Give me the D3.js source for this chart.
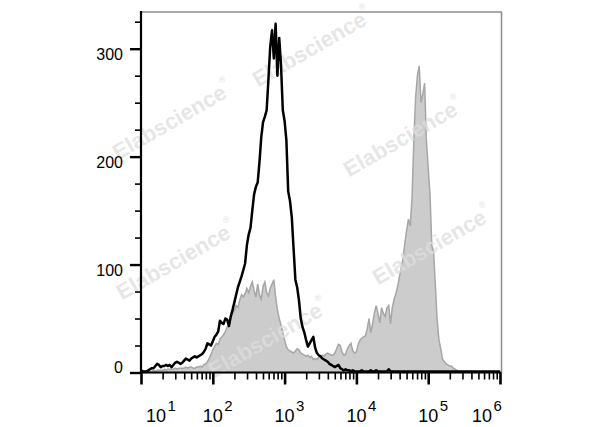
<!DOCTYPE html>
<html><head><meta charset="utf-8">
<script src="https://cdn.jsdelivr.net/npm/d3@7"></script>
<style>body{margin:0;background:#fff} svg{display:block}</style>
</head><body><svg id="c" width="600" height="427"></svg>
<script>
// bins: log10 value = binStart + i*binStep
const binStart = 1, binStep = 0.025;
const blackCounts = [
 2,1,1,1,2,3,4,4,6,8,7,5,6,6,7,6,7,5,7,9,
 10,9,8,9,11,13,12,11,13,14,15,14,15,16,17,19,22,27,26,25,
 29,33,35,38,48,46,45,50,49,43,52,58,65,72,79,84,89,95,101,118,
 128,134,150,165,172,176,195,218,232,237,243,272,302,317,291,323,275,310,285,243,
 233,215,168,159,144,115,86,79,67,50,42,37,30,24,27,30,33,23,18,16,
 15,13,12,11,10,8,7,6,5,6,7,4,3,2,3,2,2,1,2,1,
 1,1,1,2,1,1,1,1,2,1,1,2,1,1,1,1,1,1,3,1,
 1,1,1,1,1,1,1,1,1,1,1,1,1,1,1,1,1,1,1,1,
 1,1,1,1,1,1,1,1,1,1,1,1,1,1,1,1,1,1,1,1,
 1,1,1,1,1,1,1,1,1,1,1,1,1,1,1,1,1,1,1,1,
 1
];
const grayCounts = [
 0,0,1,1,1,1,1,2,1,2,2,2,2,3,2,3,3,3,3,4,
 3,4,4,4,4,5,4,5,5,4,4,5,5,6,5,7,8,10,13,17,
 21,24,27,26,31,33,35,38,42,45,50,55,57,62,60,67,72,70,73,78,
 74,80,84,76,70,82,72,68,80,84,74,71,78,82,86,70,58,50,44,37,
 30,24,21,20,19,18,20,22,21,18,17,16,15,16,14,15,12,13,12,14,
 15,16,15,17,18,17,16,16,18,22,26,25,19,16,17,22,25,27,20,18,
 19,26,30,32,33,34,40,50,37,45,55,62,55,46,60,55,52,60,62,45,
 60,68,73,80,89,97,106,120,132,142,136,162,215,255,275,284,250,258,268,215,
 190,165,118,112,80,48,30,22,12,10,8,7,6,6,4,3,2,1,0,0,
 0,0,0,0,0,0,0,0,0,0,0,0,0,0,0,0,0,0,0,0,
 0
];
const yMajorTicks = [0,100,200,300];
const yMinorTicks = [25,50,75,125,150,175,225,250,275,325];
const xDecades = [1,2,3,4,5,6];
const xLabelBase = ["10","10","10","10","10","10"];
const xLabelExp = ["1","2","3","4","5","6"];
const xLabelShift = [15,0,0,0,0,-18];
const watermarkText = "Elabscience";
const watermarks = [[172,120],[312,47],[403,137],[432,245],[176,260],[268,338]];

const svg = d3.select("#c");
const font = "Liberation Sans, Arial, Helvetica, sans-serif";
const x = d3.scaleLog().domain([10, 1e6]).range([141, 500]);
const y = d3.scaleLinear().domain([0, 334]).range([372.5, 12]);

const binVal = i => Math.pow(10, binStart + i*binStep);
const gData = grayCounts.map((c,i)=>({v:binVal(i), c}));
const bData = blackCounts.map((c,i)=>({v:binVal(i), c}));

// gray filled histogram
svg.append("path").datum(gData)
  .attr("d", d3.area().x(d=>x(d.v)).y0(y(0)).y1(d=>y(d.c)))
  .attr("fill", "#cccccc").attr("stroke", "#a6a6a6").attr("stroke-width", 1.5);

// watermarks
const wm = svg.append("g");
watermarks.forEach(([cx,cy])=>{
  const t = wm.append("text")
    .attr("transform", `translate(${cx},${cy}) rotate(-30)`)
    .attr("text-anchor","middle").attr("dominant-baseline","central")
    .attr("font-family", font).attr("font-weight","bold").attr("font-size",22)
    .attr("fill","#dedede").attr("fill-opacity",0.75);
  t.append("tspan").text(watermarkText);
  t.append("tspan").attr("font-size",9).attr("dy",-10).text("®");
});

// black line histogram
svg.append("path").datum(bData)
  .attr("d", d3.line().x(d=>x(d.v)).y(d=>y(d.c)))
  .attr("fill","none").attr("stroke","#000").attr("stroke-width",2.5).attr("stroke-linejoin","round");

// frame: top & right gray
svg.append("line").attr("x1",141).attr("x2",502).attr("y1",12).attr("y2",12).attr("stroke","#8c8c8c").attr("stroke-width",1.5);
svg.append("line").attr("x1",501.5).attr("x2",501.5).attr("y1",12).attr("y2",373).attr("stroke","#8c8c8c").attr("stroke-width",1.5);

// x axis
const xMinor = [];
xDecades.slice(0,-1).forEach(d=>{ for(let k=2;k<=9;k++) xMinor.push(k*Math.pow(10,d)); });
const gx = svg.append("g").attr("transform",`translate(0,${y(0)})`);
gx.append("g").call(d3.axisBottom(x).tickValues(xMinor).tickSize(7).tickFormat("")).call(g=>{
  g.select(".domain").remove(); g.selectAll("line").attr("stroke","#000").attr("stroke-width",1.6);
});
gx.append("g").call(d3.axisBottom(x).tickValues(xDecades.map(d=>Math.pow(10,d))).tickSize(12).tickFormat("")).call(g=>{
  g.select(".domain").remove(); g.selectAll("line").attr("stroke","#000").attr("stroke-width",2.6);
});
gx.append("line").attr("x1",140).attr("x2",501).attr("y1",0).attr("y2",0).attr("stroke","#000").attr("stroke-width",2.2);

xDecades.forEach((d,i)=>{
  const cx = x(Math.pow(10,d)) + xLabelShift[i];
  svg.append("text").attr("x",cx).attr("y",421.5).attr("text-anchor","middle")
    .attr("font-family",font).attr("font-size",18).attr("fill","#000").text(xLabelBase[i]);
  svg.append("text").attr("x",cx+11.5).attr("y",410.5).attr("text-anchor","start")
    .attr("font-family",font).attr("font-size",15).attr("fill","#000").text(xLabelExp[i]);
});

// y axis
const gy = svg.append("g").attr("transform","translate(141,0)");
gy.append("g").call(d3.axisLeft(y).tickValues(yMinorTicks).tickSize(6).tickFormat("")).call(g=>{
  g.select(".domain").remove(); g.selectAll("line").attr("stroke","#000").attr("stroke-width",1.6);
});
gy.append("g").call(d3.axisLeft(y).tickValues(yMajorTicks).tickSize(11).tickFormat("")).call(g=>{
  g.select(".domain").remove(); g.selectAll("line").attr("stroke","#000").attr("stroke-width",2.4);
});
gy.append("line").attr("x1",0).attr("x2",0).attr("y1",11).attr("y2",373.5).attr("stroke","#000").attr("stroke-width",2.2);

yMajorTicks.forEach(v=>{
  svg.append("text").attr("x",123).attr("y", y(v) + (v===0 ? -5 : 6))
    .attr("text-anchor","end").attr("dominant-baseline","central")
    .attr("font-family",font).attr("font-size",16).attr("fill","#000").text(v);
});
</script></body></html>
